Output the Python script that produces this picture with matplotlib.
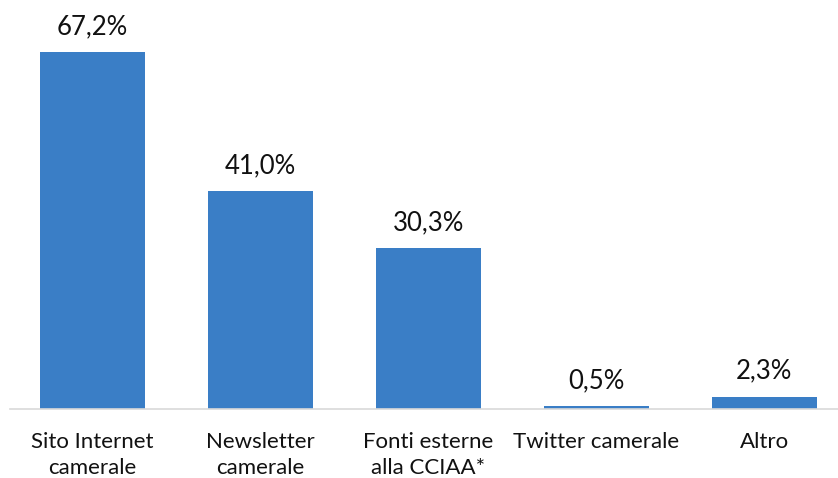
import matplotlib.pyplot as plt

categories = ['Sito Internet\ncamerale', 'Newsletter\ncamerale', 'Fonti esterne\nalla CCIAA*',
              'Twitter camerale', 'Altro']
values = [67.2, 41.0, 30.3, 0.5, 2.3]
labels = ['67,2%', '41,0%', '30,3%', '0,5%', '2,3%']

plt.rcParams['font.family'] = ['Lato', 'DejaVu Sans']

fig = plt.figure(figsize=(8.38, 4.78), dpi=100)
ax = fig.add_axes([10 / 838, 1 - 409 / 478, 1 - 10 / 838, 409 / 478])

x = range(len(values))
ax.bar(x, values, width=0.625, color='#3A7EC6', zorder=2)

for i, v in enumerate(values):
    ax.annotate(labels[i], (i, v), xytext=(0, 9.5), textcoords='offset points',
                ha='center', va='bottom', fontsize=18.5, color='#111111')

ax.set_xlim(-0.49, 4.44)
ax.set_ylim(0, 77.0)

for s in ['top', 'right', 'left']:
    ax.spines[s].set_visible(False)
ax.spines['bottom'].set_color('#D9D9D9')
ax.spines['bottom'].set_linewidth(1.2)
ax.set_yticks([])
ax.set_xticks(list(x))
ax.set_xticklabels(categories, fontsize=16, color='#111111', linespacing=1.4)
ax.tick_params(axis='x', length=0, pad=16.5)

fig.savefig('out.png', dpi=100)
